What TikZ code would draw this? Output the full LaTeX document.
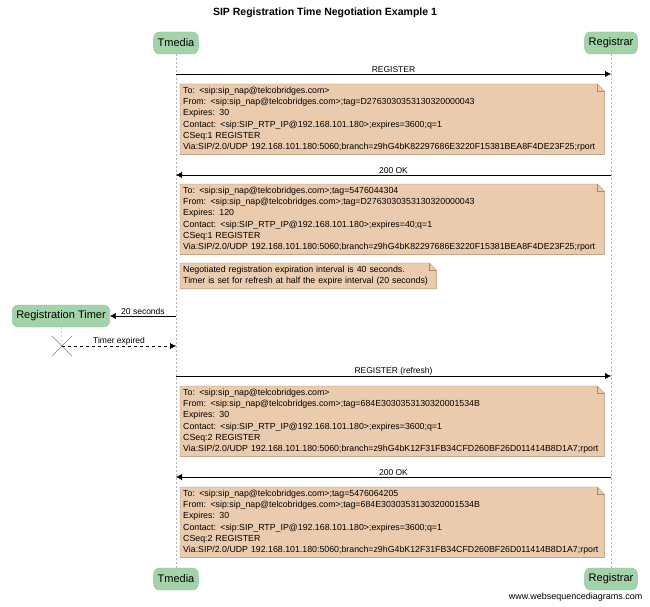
\documentclass[tikz,border=0pt]{standalone}
\usepackage{fontspec}
\setmainfont{Liberation Sans}
\usetikzlibrary{positioning,arrows.meta,backgrounds}
\definecolor{notefill}{HTML}{EBCBAD}
\definecolor{noteline}{HTML}{A88A6A}
\definecolor{actorfill}{HTML}{A3D3A9}
\tikzset{
  actor/.style={rounded corners=6pt, fill=actorfill, draw=actorfill!90!black, minimum height=22pt, inner sep=4pt, font=\fontsize{11}{11}\selectfont},
  lifeline/.style={gray!60, dashed, dash pattern=on 2pt off 2pt},
  msg/.style={-{Latex[length=6pt,width=6pt]}, thin},
  msgtxt/.style={font=\fontsize{8.5}{9}\selectfont, above=-1pt, inner sep=2pt},
  notetxt/.style={anchor=north west, align=left, inner sep=3pt, font=\fontsize{8.8}{11.2}\selectfont, text width=#1},
}
% dog-eared note behind a text node
\newcommand{\notebox}[1]{%
  \begin{scope}[on background layer]
  \fill[notefill, draw=noteline] (#1.south west) -- (#1.north west) -- ([xshift=-7pt]#1.north east)
     -- ([yshift=-7pt]#1.north east) -- (#1.south east) -- cycle;
  \draw[noteline] ([xshift=-7pt]#1.north east) |- ([yshift=-7pt]#1.north east);
  \end{scope}}
\begin{document}
\begin{tikzpicture}[x=1pt, y=-1pt]
\useasboundingbox (0,0) rectangle (650,607);

% Title
\node[font=\bfseries\fontsize{10.5}{10}\selectfont] (title) at (325,13) {SIP Registration Time Negotiation Example 1};

% Actors
\node[actor] (tm)  at (176,43)  {Tmedia};
\node[actor] (reg) at (611,43)  {Registrar};
\node[actor] (tmb)  at (176,579) {Tmedia};
\node[actor] (regb) at (611,579) {Registrar};
\draw[lifeline] (tm) -- (tmb);
\draw[lifeline] (reg) -- (regb);

% REGISTER
\coordinate (a1) at (176,74); \coordinate (b1) at (611,74);
\draw[msg] (a1) -- node[msgtxt] {REGISTER} (b1);
\node[notetxt=418pt] (n1) at (180,84) {To: <sip:sip\_nap@telcobridges.com>\\
From: <sip:sip\_nap@telcobridges.com>;tag=D2763030353130320000043\\
Expires: 30\\
Contact: <sip:SIP\_RTP\_IP@192.168.101.180>;expires=3600;q=1\\
CSeq:1 REGISTER\\
Via:SIP/2.0/UDP 192.168.101.180:5060;branch=z9hG4bK82297686E3220F15381BEA8F4DE23F25;rport};
\notebox{n1}

% 200 OK
\coordinate (a2) at (611,175); \coordinate (b2) at (176,175);
\draw[msg] (a2) -- node[msgtxt] {200 OK} (b2);
\node[notetxt=418pt] (n2) at (180,184) {To: <sip:sip\_nap@telcobridges.com>;tag=5476044304\\
From: <sip:sip\_nap@telcobridges.com>;tag=D2763030353130320000043\\
Expires: 120\\
Contact: <sip:SIP\_RTP\_IP@192.168.101.180>;expires=40;q=1\\
CSeq:1 REGISTER\\
Via:SIP/2.0/UDP 192.168.101.180:5060;branch=z9hG4bK82297686E3220F15381BEA8F4DE23F25;rport};
\notebox{n2}

\node[notetxt=250pt] (n3) at (180,263) {Negotiated registration expiration interval is 40 seconds.\\
Timer is set for refresh at half the expire interval (20 seconds)};
\notebox{n3}

% Timer
\node[actor] (timer) at (61,316) {Registration Timer};
\coordinate (a3) at (176,316);
\draw[msg] (a3) -- node[msgtxt] {20 seconds} (timer);
\coordinate (x0) at (62,346);
\draw[lifeline] (timer) -- (x0);
\draw[gray] ([shift={(-10,-10)}]x0) -- ([shift={(10,10)}]x0)
            ([shift={(-10,10)}]x0) -- ([shift={(10,-10)}]x0);
\coordinate (b4) at (176,346);
\draw[msg, dashed] (x0) -- node[msgtxt] {Timer expired} (b4);

% REGISTER (refresh)
\coordinate (a5) at (176,376); \coordinate (b5) at (611,376);
\draw[msg] (a5) -- node[msgtxt] {REGISTER (refresh)} (b5);
\node[notetxt=418pt] (n4) at (180,386) {To: <sip:sip\_nap@telcobridges.com>\\
From: <sip:sip\_nap@telcobridges.com>;tag=684E3030353130320001534B\\
Expires: 30\\
Contact: <sip:SIP\_RTP\_IP@192.168.101.180>;expires=3600;q=1\\
CSeq:2 REGISTER\\
Via:SIP/2.0/UDP 192.168.101.180:5060;branch=z9hG4bK12F31FB34CFD260BF26D011414B8D1A7;rport};
\notebox{n4}

% 200 OK
\coordinate (a6) at (611,477); \coordinate (b6) at (176,477);
\draw[msg] (a6) -- node[msgtxt] {200 OK} (b6);
\node[notetxt=418pt] (n5) at (180,487) {To: <sip:sip\_nap@telcobridges.com>;tag=5476064205\\
From: <sip:sip\_nap@telcobridges.com>;tag=684E3030353130320001534B\\
Expires: 30\\
Contact: <sip:SIP\_RTP\_IP@192.168.101.180>;expires=3600;q=1\\
CSeq:2 REGISTER\\
Via:SIP/2.0/UDP 192.168.101.180:5060;branch=z9hG4bK12F31FB34CFD260BF26D011414B8D1A7;rport};
\notebox{n5}

\node[font=\fontsize{9}{9}\selectfont, anchor=east] (site) at (646,597) {www.websequencediagrams.com};
\end{tikzpicture}
\end{document}
